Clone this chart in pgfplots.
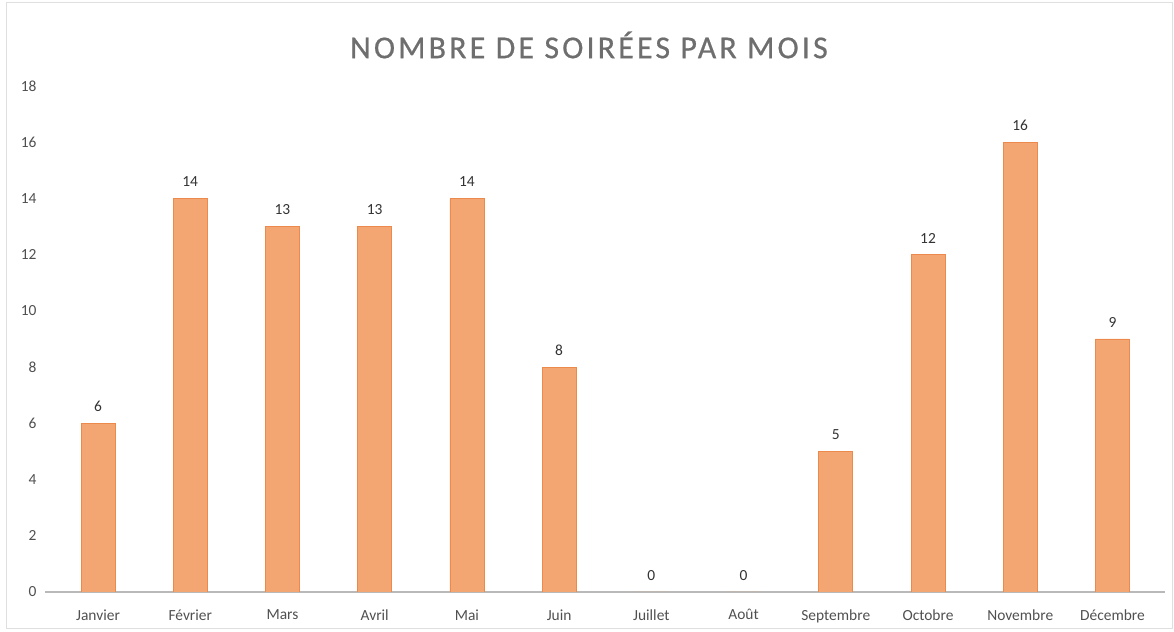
\documentclass[border=0pt]{standalone}
\usepackage{fontspec}
\setmainfont{Carlito}
\usepackage{pgfplots}
\pgfplotsset{compat=1.18}
\definecolor{barfill}{RGB}{244,166,114}
\definecolor{bardark}{RGB}{236,138,78}
\definecolor{txt}{RGB}{80,80,80}
\definecolor{titlec}{RGB}{110,110,110}
\begin{document}
\begin{tikzpicture}[x=1bp,y=1bp]
\path[use as bounding box] (0,0) rectangle (1174,632);
\draw[gray!25, line width=1bp] (6,3) rectangle (1172,629);
\node[text=titlec, font=\fontsize{32}{36}\selectfont\addfontfeatures{LetterSpace=10,FakeBold=0.6}] at (589,587) {NOMBRE DE SOIRÉES PAR MOIS};
\begin{axis}[at={(45bp,40bp)}, anchor=south west, scale only axis,
  width=1120bp, height=506bp,
  xmin=-0.575, xmax=11.57, ymin=0, ymax=18,
  axis x line*=bottom, axis y line*=left,
  x axis line style={draw=gray!55, line width=1.2bp, -},
  y axis line style={draw=none},
  major tick length=0pt,
  /pgf/number format/assume math mode=true,
  ytick={0,2,...,18},
  xtick={0,...,11},
  xticklabels={Janvier,Février,Mars,Avril,Mai,Juin,Juillet,Août,Septembre,Octobre,Novembre,Décembre},
  ticklabel style={text=txt, font=\fontsize{15.5}{18}\selectfont},
  xticklabel style={yshift=-14bp},
  yticklabel style={xshift=-5bp},
  ybar, bar width=34bp,
  nodes near coords,
  every node near coord/.append style={text=black!80, font=\fontsize{15.5}{18}\selectfont, yshift=8bp},
]
\addplot[draw=bardark, line width=0.6bp, fill=barfill]
coordinates {(0,6) (1,14) (2,13) (3,13) (4,14) (5,8) (6,0) (7,0) (8,5) (9,12) (10,16) (11,9)};
\end{axis}
\end{tikzpicture}
\end{document}
